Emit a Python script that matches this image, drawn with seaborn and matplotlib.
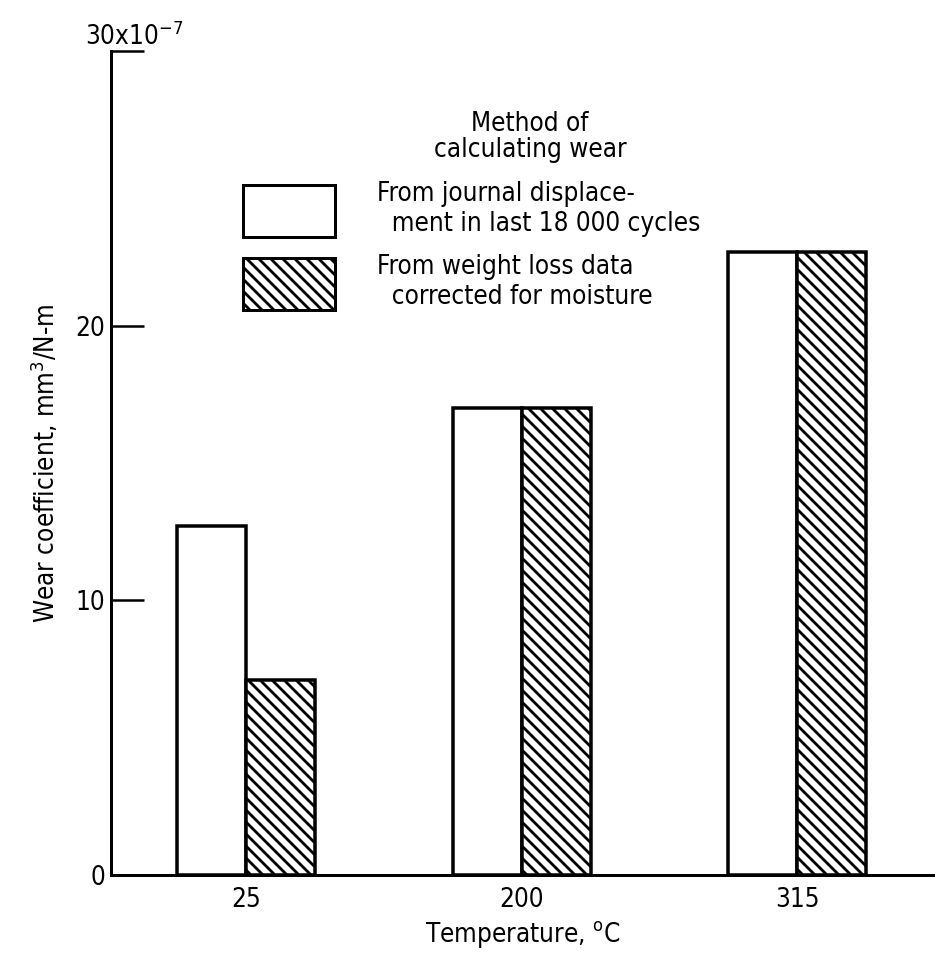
import matplotlib
matplotlib.use('Agg')
import numpy as np
import pandas as pd
import seaborn as sns
import matplotlib.pyplot as plt
from matplotlib import font_manager
from matplotlib.patches import Patch

# data (units of 1e-7 mm^3/N-m)
temperatures = ['25', '200', '315']
methods = ['From journal displace-\n  ment in last 18 000 cycles',
           'From weight loss data\n  corrected for moisture']
journal_wear = [12.7, 17.0, 22.7]
weight_loss_wear = [7.1, 17.0, 22.7]
y_ticks = [0, 10, 20, 30]
y_tick_labels = ['0', '10', '20', '']

df = pd.DataFrame({
    'Temperature': temperatures * 2,
    'Method': [methods[0]] * 3 + [methods[1]] * 3,
    'Wear': journal_wear + weight_loss_wear,
})

sns.set_style('white')

# the original uses a tall narrow typeface; take a condensed one if there is any
narrow = [f for f in font_manager.fontManager.ttflist
          if ('Narrow' in f.name or 'Condensed' in f.fname)
          and f.style == 'normal' and f.weight in (400, 'normal')]
if narrow:
    plt.rcParams['font.family'] = [narrow[0].name, 'DejaVu Sans']
    plt.rcParams['font.stretch'] = narrow[0].stretch
else:
    plt.rcParams['font.family'] = ['Liberation Sans', 'DejaVu Sans']
plt.rcParams['mathtext.default'] = 'regular'
plt.rcParams['text.color'] = 'black'
plt.rcParams['axes.labelcolor'] = 'black'
plt.rcParams['xtick.color'] = 'black'
plt.rcParams['ytick.color'] = 'black'
plt.rcParams['hatch.linewidth'] = 2.8
plt.rcParams['hatch.color'] = 'black'
FS = 26

W, H = 935, 957
fig = plt.figure(figsize=(W / 72, H / 72), dpi=72)
ax = fig.add_axes([111 / W, 82 / H, 1 - 111 / W, 824 / H])

sns.barplot(data=df, x='Temperature', y='Wear', hue='Method',
            order=temperatures, hue_order=methods,
            palette=['white', 'white'], edgecolor='black', linewidth=3.5,
            width=0.5, gap=0, saturation=1, legend=False, ax=ax)

# hatch the weight-loss bars
for bar in ax.containers[1]:
    bar.set_hatch('\\\\')

ax.set_ylim(0, 30)
ax.set_xlim(-0.49, 2.5)
ax.set_yticks(y_ticks)
ax.set_yticklabels(y_tick_labels)
ax.tick_params(axis='y', left=True, direction='in', length=33, width=2.5, pad=6, labelsize=FS)
ax.tick_params(axis='x', bottom=False, length=0, pad=12, labelsize=FS)

for side in ['top', 'right']:
    ax.spines[side].set_visible(False)
for side in ['left', 'bottom']:
    ax.spines[side].set_linewidth(3)
    ax.spines[side].set_color('black')

ax.set_xlabel('Temperature, $^{o}$C', fontsize=FS, labelpad=6)
ax.set_ylabel('Wear coefficient, mm$^{3}$/N-m', fontsize=FS, labelpad=14)

fig.text(85 / W, 1 - 45 / H, '30x10$^{-7}$', fontsize=FS, va='baseline', ha='left')

fig.text(530 / W, 1 - 137 / H, 'Method of\ncalculating wear', fontsize=FS,
         ha='center', va='center', linespacing=1.0)

handles = [Patch(facecolor='white', edgecolor='black', lw=3),
           Patch(facecolor='white', edgecolor='black', lw=3, hatch='\\\\')]
fig.legend(handles, methods, loc='upper left', bbox_to_anchor=(243 / W, 1 - 181 / H),
           bbox_transform=fig.transFigure, frameon=False, fontsize=FS,
           borderpad=0, borderaxespad=0, handlelength=92 / FS, handleheight=70 / FS,
           handletextpad=1.6, labelspacing=0.65)

fig.savefig('out.png', dpi=72)
